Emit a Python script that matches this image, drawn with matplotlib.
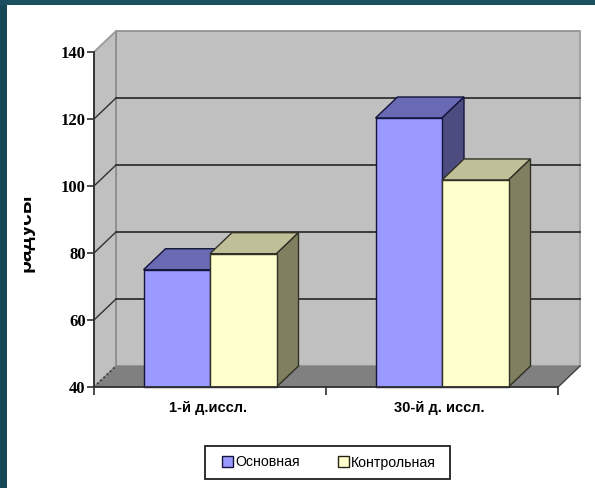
import matplotlib
matplotlib.use("Agg")
import matplotlib.pyplot as plt
from matplotlib.patches import Polygon, Rectangle, Patch
from matplotlib.ticker import FixedLocator, NullFormatter

categories = ["1-й д.иссл.", "30-й д. иссл."]
series_names = ["Основная", "Контрольная"]
osnovnaya = [75, 120.3]
kontrolnaya = [79.8, 101.8]
y_ticks = [40, 60, 80, 100, 120, 140]
y_title = "радусы"

W, H = 595, 488
fig = plt.figure(figsize=(W / 100, H / 100), dpi=100, facecolor="white")

def fr(x0, y0, x1, y1):
    return [x0 / W, 1 - y1 / H, (x1 - x0) / W, (y1 - y0) / H]

ax = fig.add_axes(fr(94, 52, 558, 387))
ax.set_xlim(0, 2)
ax.set_ylim(40, 140)
ax.patch.set_visible(False)
for s in ax.spines.values():
    s.set_visible(False)

# depth of the 3-D box, in data units
dx = 22 / 464 * 2
dy = 21 / 335 * 100

def poly(pts, fc, ec="none", lw=0.0, z=1):
    ax.add_patch(Polygon(pts, closed=True, fc=fc, ec=ec, lw=lw, zorder=z, clip_on=False, joinstyle="miter"))

WALL = "#c0c0c0"
EDGE = "#8c8c8c"
poly([(dx, 40 + dy), (2 + dx, 40 + dy), (2 + dx, 140 + dy), (dx, 140 + dy)], WALL, EDGE, 1.2)
poly([(0, 40), (dx, 40 + dy), (dx, 140 + dy), (0, 140)], WALL, EDGE, 1.2)
poly([(0, 40), (2, 40), (2 + dx, 40 + dy), (dx, 40 + dy)], "#808080")
ax.plot([2, 2 + dx, 2 + dx], [40, 40 + dy, 140 + dy], color="#a8a8a8", lw=1, zorder=1, clip_on=False)

# gridlines
for v in y_ticks[1:-1]:
    ax.plot([0, dx], [v, v + dy], color="#303030", lw=1.0, zorder=2, clip_on=False)
    ax.plot([dx, 2 + dx], [v + dy, v + dy], color="#303030", lw=1.3, zorder=2, clip_on=False)
ax.plot([0, dx], [40, 40 + dy], color="#303030", lw=1.2, ls=":", zorder=2, clip_on=False)
ax.plot([2, 2 + dx], [40, 40 + dy], color="#404040", lw=1, zorder=2, clip_on=False)
ax.plot([0, dx], [140, 140 + dy], color="#a0a0a0", lw=1, zorder=2, clip_on=False)

# bars
bw = 66.5 / 232
def bar3d(x0, v, front, top, side, z):
    x1 = x0 + bw
    e = "#14143c" if front == "#9999ff" else "#303024"
    poly([(x0, v), (x1, v), (x1 + dx, v + dy), (x0 + dx, v + dy)], top, e, 1.0, z)
    poly([(x1, 40), (x1 + dx, 40 + dy), (x1 + dx, v + dy), (x1, v)], side, e, 1.0, z)
    ax.bar(x0, v - 40, bottom=40, width=bw, align="edge", color=front, edgecolor=e, linewidth=1.0, zorder=z, clip_on=False)

for i in range(len(categories)):
    c = i + 0.5
    bar3d(c - bw, osnovnaya[i], "#9999ff", "#6a6ab4", "#4c4c80", 3 + i * 2)
    bar3d(c, kontrolnaya[i], "#ffffcc", "#c0c098", "#808060", 4 + i * 2)

# axes lines and ticks
ax.plot([0, 0], [40, 140], color="#303030", lw=1.3, zorder=10, clip_on=False)
ax.plot([0, 2], [40, 40], color="#303030", lw=1.3, zorder=10, clip_on=False)

ax.set_yticks(y_ticks)
ax.set_yticklabels(y_ticks, fontfamily="Liberation Serif", fontweight="bold", fontsize=12, color="black")
ax.tick_params(axis="y", length=5, width=1.2, color="#303030", pad=1)
ax.xaxis.set_major_locator(FixedLocator([0, 1, 2]))
ax.xaxis.set_major_formatter(NullFormatter())
ax.tick_params(axis="x", length=5.5, width=1.2, color="#303030")

for i, name in enumerate(categories):
    ax.annotate(name, (i + 0.5 - 0.01, 40), xytext=(0, -21), textcoords="offset pixels",
                ha="center", va="center", fontfamily="Liberation Sans", fontweight="bold", fontsize=10.5, color="black")

# axis title, its left part hidden as in the source image
fig.text(25.5 / W, 1 - 233 / H, y_title, rotation=90, ha="center", va="center",
         fontfamily="Liberation Sans", fontweight="bold", fontsize=15, color="black", zorder=3)
fig.add_artist(Rectangle((7 / W, 0.3), 17 / W, 0.4, transform=fig.transFigure, fc="white", ec="none", zorder=4))

# slide frame
TEAL = "#164858"
fig.add_artist(Rectangle((0, 0), 7 / W, 1, transform=fig.transFigure, fc=TEAL, ec="none", zorder=5))
fig.add_artist(Rectangle((0, 1 - 4.5 / H), 1, 4.5 / H, transform=fig.transFigure, fc="#1b5060", ec="none", zorder=5))

# legend
fig.add_artist(Rectangle((205 / W, 1 - 479 / H), 245 / W, 33 / H, transform=fig.transFigure,
                         fc="white", ec="#202020", lw=1.3, zorder=6))
handles = [Patch(fc="#9999ff", ec="#14143c", lw=1), Patch(fc="#ffffcc", ec="#262618", lw=1)]
leg = fig.legend(handles, series_names, ncol=2, loc="center", bbox_to_anchor=(329 / W, 1 - 462.5 / H),
                 frameon=False, handlelength=0.75, handleheight=0.75, handletextpad=0.15, columnspacing=2.7,
                 prop={"family": "Liberation Sans", "size": 10.2})
leg.set_zorder(7)

fig.savefig("out.png", dpi=100)
